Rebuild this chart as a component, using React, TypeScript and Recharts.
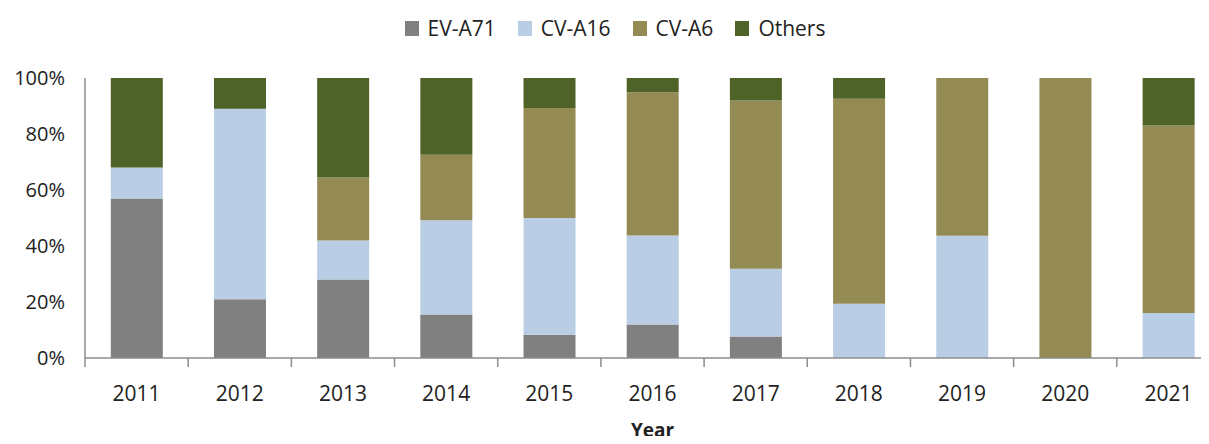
import { BarChart, Bar, XAxis, YAxis, Legend } from 'recharts';

const years = ['2011', '2012', '2013', '2014', '2015', '2016', '2017', '2018', '2019', '2020', '2021'];
const evA71 = [57, 21, 28, 15.5, 8.3, 12, 7.7, 0, 0, 0, 0];
const cvA16 = [11, 68, 14, 33.7, 41.7, 31.8, 24.2, 19.4, 43.7, 0, 16.1];
const cvA6 = [0, 0, 22.5, 23.4, 39.3, 51.2, 60.1, 73.2, 56.3, 100, 66.9];
const others = [32, 11, 35.5, 27.4, 10.7, 5.1, 8, 7.4, 0, 0, 17];

const seriesNames = ['EV-A71', 'CV-A16', 'CV-A6', 'Others'];
const seriesColors = ['#808080', '#b9cde5', '#948a54', '#4f6228'];
const yTicks = [0, 0.2, 0.4, 0.6, 0.8, 1];

const data = years.map((year, i) => ({
  year,
  'EV-A71': evA71[i],
  'CV-A16': cvA16[i],
  'CV-A6': cvA6[i],
  Others: others[i],
}));

const FONT = '"Open Sans", sans-serif';
const AXIS_COLOR = '#8c8c8c';

function YearTick(props: any) {
  const { x, y, payload } = props;
  const half = payload.offset ?? 51.6;
  return (
    <g>
      <line x1={x - half} x2={x - half} y1={y} y2={y + 9} stroke={AXIS_COLOR} strokeWidth={1.5} />
      <text x={x} y={y + 43} textAnchor="middle" fontFamily={FONT} fontSize={21} fill="#222">
        {payload.value}
      </text>
    </g>
  );
}

function LegendContent() {
  return (
    <div style={{ display: 'flex', justifyContent: 'center', fontFamily: FONT, fontSize: 21, color: '#222' }}>
      {seriesNames.map((name, i) => (
        <div key={name} style={{ display: 'flex', alignItems: 'center', marginRight: i < seriesNames.length - 1 ? 22 : 0 }}>
          <span style={{ width: 14, height: 15, background: seriesColors[i], marginRight: 9, display: 'inline-block' }} />
          <span>{name}</span>
        </div>
      ))}
    </div>
  );
}

export default function App() {
  return (
    <div style={{ margin: -8, width: 1209, height: 444, overflow: 'hidden', background: '#fff' }}>
      <BarChart
        width={1240}
        height={444}
        data={data}
        stackOffset="expand"
        barCategoryGap="25%"
        margin={{ top: 78, right: 20, bottom: 0, left: 0 }}
      >
        <Legend
          verticalAlign="middle"
          align="center"
          content={<LegendContent />}
          wrapperStyle={{ top: 14, left: 0, width: 1230 }}
        />
        <XAxis
          dataKey="year"
          height={86}
          tickLine={false}
          tickSize={0}
          tickMargin={0}
          axisLine={{ stroke: AXIS_COLOR, strokeWidth: 1.5 }}
          tick={<YearTick />}
          interval={0}
          label={{
            value: 'Year',
            position: 'insideBottom',
            offset: 7,
            style: { fontFamily: FONT, fontSize: 19, fontWeight: 700, fill: '#222' },
          }}
        />
        <YAxis
          width={85}
          domain={[0, 1]}
          ticks={yTicks}
          tickFormatter={(v: number) => `${Math.round(v * 100)}%`}
          tickLine={false}
          tickSize={0}
          tickMargin={20}
          axisLine={{ stroke: AXIS_COLOR, strokeWidth: 1.5 }}
          tick={{ fontFamily: FONT, fontSize: 20, fill: '#222' }}
        />
        {seriesNames.map((name, i) => (
          <Bar key={name} dataKey={name} stackId="a" fill={seriesColors[i]} isAnimationActive={false} />
        ))}
      </BarChart>
    </div>
  );
}
